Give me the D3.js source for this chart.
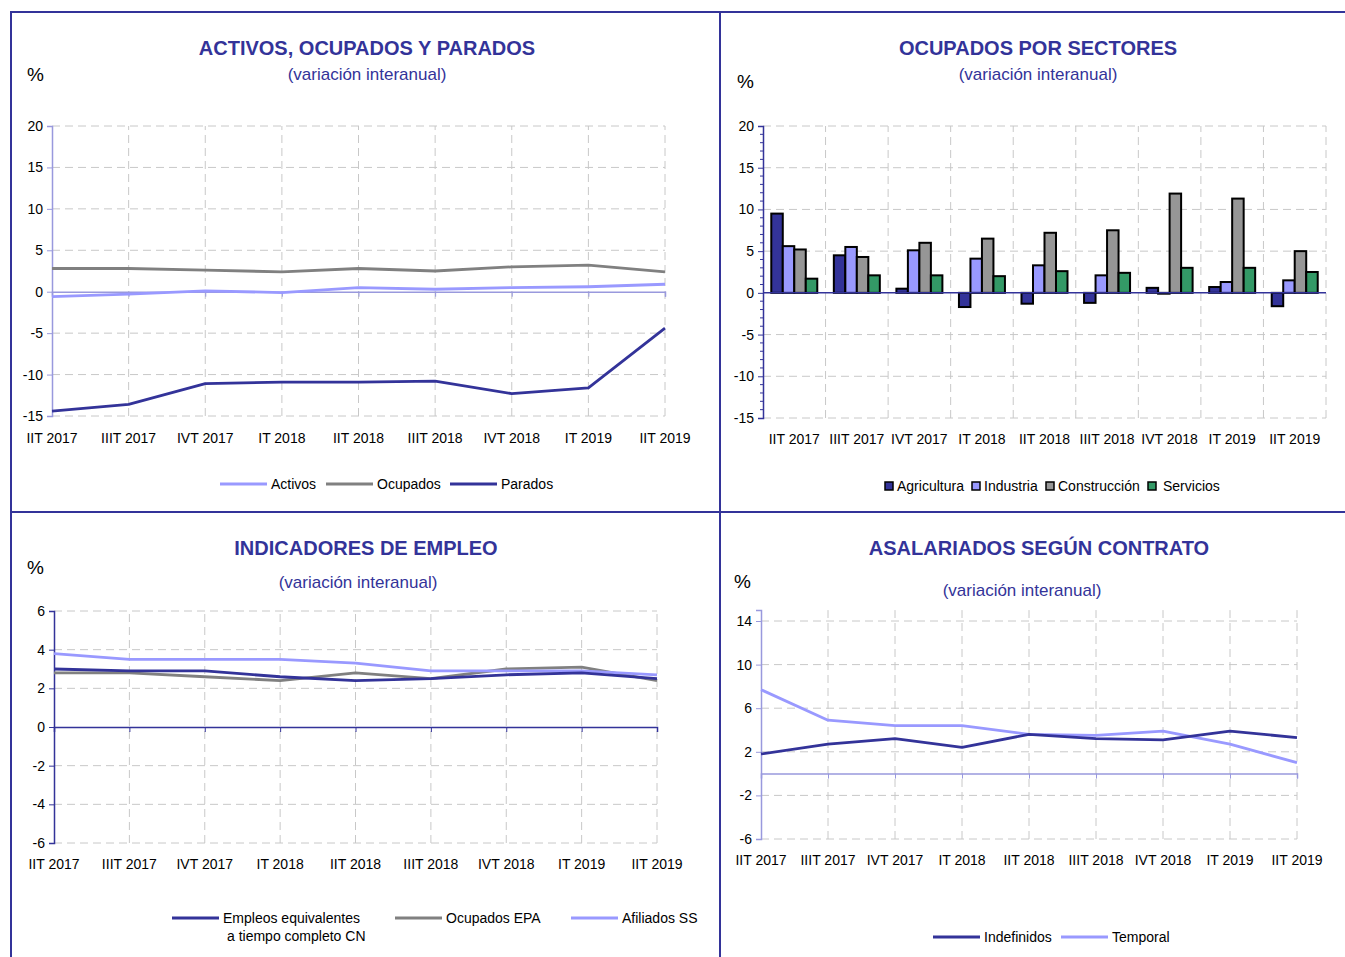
<!DOCTYPE html>
<html><head><meta charset="utf-8">
<script src="https://cdn.jsdelivr.net/npm/d3@7"></script>
<style>
body{margin:0;background:#fff;}
svg{display:block;font-family:"Liberation Sans",Arial,sans-serif;}
</style></head>
<body><svg id="c" width="1345" height="957"></svg>
<script>
const categories = ["IIT 2017","IIIT 2017","IVT 2017","IT 2018","IIT 2018","IIIT 2018","IVT 2018","IT 2019","IIT 2019"];

// Panel 1
const activos  = [-0.6,-0.3,0.1,-0.1,0.5,0.3,0.5,0.6,0.9];
const ocupados = [2.8,2.8,2.6,2.4,2.8,2.5,3.0,3.2,2.4];
const parados  = [-14.4,-13.6,-11.1,-10.9,-10.9,-10.8,-12.3,-11.6,-4.4];
const ticks1 = [20,15,10,5,0,-5,-10,-15];

// Panel 2
const sectores = ["Agricultura","Industria","Construcción","Servicios"];
const agricultura  = [9.5,4.5,0.5,-1.7,-1.3,-1.2,0.6,0.7,-1.6];
const industria    = [5.6,5.5,5.1,4.1,3.3,2.1,-0.1,1.3,1.5];
const construccion = [5.2,4.3,6.0,6.5,7.2,7.5,11.9,11.3,5.0];
const servicios    = [1.7,2.1,2.1,2.0,2.6,2.4,3.0,3.0,2.5];
const ticks2 = [20,15,10,5,0,-5,-10,-15];

// Panel 3
const empleosCN   = [3.0,2.9,2.9,2.6,2.4,2.5,2.7,2.8,2.5];
const ocupadosEPA = [2.8,2.8,2.6,2.4,2.8,2.5,3.0,3.1,2.4];
const afiliadosSS = [3.8,3.5,3.5,3.5,3.3,2.9,2.9,2.9,2.7];
const ticks3 = [6,4,2,0,-2,-4,-6];

// Panel 4
const indefinidos = [1.8,2.7,3.2,2.4,3.6,3.2,3.1,3.9,3.3];
const temporal    = [7.7,4.9,4.4,4.4,3.6,3.5,3.9,2.7,1.0];
const ticks4 = [14,10,6,2,-2,-6];

const DARK="#333399", LIGHT="#9999ff", GRAY="#808080", TITLE="#333399";
const fmt = d => String(d);
const svg = d3.select("#c");

// frame
const frame = svg.append("g").attr("stroke",DARK).attr("stroke-width",2);
frame.append("line").attr("x1",10).attr("x2",1345).attr("y1",12).attr("y2",12);
frame.append("line").attr("x1",11).attr("x2",11).attr("y1",12).attr("y2",957);
frame.append("line").attr("x1",720).attr("x2",720).attr("y1",12).attr("y2",957);
frame.append("line").attr("x1",10).attr("x2",1345).attr("y1",512).attr("y2",512);

function titles(cx, ty, title, sx, sy, px, py){
  svg.append("text").attr("x",cx).attr("y",ty).attr("text-anchor","middle")
    .attr("font-size",20).attr("font-weight","bold").attr("fill",TITLE).text(title);
  svg.append("text").attr("x",sx).attr("y",sy).attr("text-anchor","middle")
    .attr("font-size",17).attr("fill",TITLE).text("(variación interanual)");
  svg.append("text").attr("x",px).attr("y",py).attr("font-size",19).attr("fill","#000").text("%");
}

function lineChart(o){
  const x = d3.scalePoint().domain(categories).range([o.x0,o.x1]);
  const y = d3.scaleLinear().domain(o.domain).range([o.yb,o.yt]);
  const g = svg.append("g");
  // grid
  g.selectAll(".hg").data(o.ticks.filter(t=>t!==0)).join("line")
    .attr("x1",o.x0).attr("x2",o.x1).attr("y1",d=>y(d)).attr("y2",d=>y(d))
    .attr("stroke","#c8c8c8").attr("stroke-dasharray","8,5");
  g.selectAll(".vg").data(categories.slice(1)).join("line")
    .attr("x1",d=>x(d)).attr("x2",d=>x(d)).attr("y1",y(o.domain[0])).attr("y2",y(o.domain[1]))
    .attr("stroke","#c8c8c8").attr("stroke-dasharray","8,5");
  // y axis
  const ya = g.append("g").attr("transform",`translate(${o.x0},0)`)
    .call(d3.axisLeft(y).tickValues(o.ticks).tickSize(5).tickPadding(4).tickFormat(fmt));
  ya.select(".domain").attr("stroke",o.axisColor).attr("stroke-width",1.5);
  ya.selectAll(".tick line").attr("stroke",o.axisColor);
  ya.selectAll("text").attr("font-size",14).attr("fill","#000").attr("font-family","Liberation Sans, Arial, sans-serif");
  // zero line with ticks
  const xa = g.append("g").attr("transform",`translate(0,${y(0)})`)
    .call(d3.axisBottom(x).tickSize(5).tickFormat(""));
  xa.select(".domain").attr("stroke",o.axisColor).attr("stroke-width",1.5);
  xa.selectAll(".tick line").attr("stroke",o.axisColor);
  // category labels
  g.selectAll(".cl").data(categories).join("text")
    .attr("x",d=>x(d)).attr("y",o.labelY).attr("text-anchor","middle")
    .attr("font-size",14).attr("fill","#000").text(d=>d);
  // series
  const line = d3.line().x((d,i)=>x(categories[i])).y(d=>y(d));
  o.series.forEach(s=>{
    g.append("path").datum(s.values).attr("d",line).attr("fill","none")
      .attr("stroke",s.color).attr("stroke-width",2.8).attr("stroke-linejoin","round");
  });
  // legend
  o.legend.forEach(l=>{
    g.append("line").attr("x1",l.x).attr("x2",l.x+47).attr("y1",l.y-5).attr("y2",l.y-5)
      .attr("stroke",l.color).attr("stroke-width",3);
    g.append("text").attr("x",l.x+51).attr("y",l.y).attr("font-size",14).attr("fill","#000").text(l.name);
    if(l.name2){
      g.append("text").attr("x",l.x+55).attr("y",l.y+18).attr("font-size",14).attr("fill","#000").text(l.name2);
    }
  });
}

// Panel 1
titles(367,55,"ACTIVOS, OCUPADOS Y PARADOS",367,80,27,81);
lineChart({x0:52,x1:665,yt:126,yb:416,domain:[-15,20],ticks:ticks1,axisColor:"#9999dd",labelY:443,
  series:[{values:ocupados,color:GRAY},{values:activos,color:LIGHT},{values:parados,color:DARK}],
  legend:[{x:220,y:489,color:LIGHT,name:"Activos"},{x:326,y:489,color:GRAY,name:"Ocupados"},{x:450,y:489,color:DARK,name:"Parados"}]});

// Panel 3
titles(366,555,"INDICADORES DE EMPLEO",358,588,27,574);
lineChart({x0:54,x1:657,yt:611,yb:843,domain:[-6,6],ticks:ticks3,axisColor:DARK,labelY:869,
  series:[{values:ocupadosEPA,color:GRAY},{values:afiliadosSS,color:LIGHT},{values:empleosCN,color:DARK}],
  legend:[{x:172,y:923,color:DARK,name:"Empleos equivalentes",name2:"a tiempo completo CN"},
          {x:395,y:923,color:GRAY,name:"Ocupados EPA"},{x:571,y:923,color:LIGHT,name:"Afiliados SS"}]});

// Panel 4
titles(1039,555,"ASALARIADOS SEGÚN CONTRATO",1022,596,734,588);
lineChart({x0:761,x1:1297,yt:621-(839-621)/20,yb:839,domain:[-6,15],ticks:ticks4,axisColor:"#9999dd",labelY:865,
  series:[{values:temporal,color:LIGHT},{values:indefinidos,color:DARK}],
  legend:[{x:933,y:942,color:DARK,name:"Indefinidos"},{x:1061,y:942,color:LIGHT,name:"Temporal"}]});

// Panel 2 bars
titles(1038,55,"OCUPADOS POR SECTORES",1038,80,737,88);
(function(){
  const x0=763, x1=1326, yt=126, yb=418;
  const x = d3.scaleBand().domain(categories).range([x0,x1]).paddingInner(0).paddingOuter(0);
  const y = d3.scaleLinear().domain([-15,20]).range([yb,yt]);
  const inner = d3.scaleBand().domain(sectores).range([0,x.bandwidth()]).paddingOuter(0.72).paddingInner(0);
  const colors = {"Agricultura":"#333399","Industria":"#9999ff","Construcción":"#969696","Servicios":"#339966"};
  const vals = {"Agricultura":agricultura,"Industria":industria,"Construcción":construccion,"Servicios":servicios};
  const g = svg.append("g");
  g.selectAll(".hg").data(ticks2.filter(t=>t!==0)).join("line")
    .attr("x1",x0).attr("x2",x1).attr("y1",d=>y(d)).attr("y2",d=>y(d))
    .attr("stroke","#c8c8c8").attr("stroke-dasharray","8,5");
  g.selectAll(".vg").data(categories.slice(1).concat(["__end"])).join("line")
    .attr("x1",d=>d==="__end"?x1:x(d)).attr("x2",d=>d==="__end"?x1:x(d)).attr("y1",yb).attr("y2",yt)
    .attr("stroke","#c8c8c8").attr("stroke-dasharray","8,5");
  const ya = g.append("g").attr("transform",`translate(${x0},0)`)
    .call(d3.axisLeft(y).tickValues(ticks2).tickSize(5).tickPadding(4).tickFormat(fmt));
  ya.select(".domain").attr("stroke",DARK).attr("stroke-width",1.5);
  ya.selectAll(".tick line").attr("stroke",DARK);
  ya.selectAll("text").attr("font-size",14).attr("fill","#000").attr("font-family","Liberation Sans, Arial, sans-serif");
  const minor = d3.range(-15,21).filter(v=>v%5!==0);
  g.selectAll(".mt").data(minor).join("line").attr("x1",x0-3).attr("x2",x0).attr("y1",d=>y(d)).attr("y2",d=>y(d)).attr("stroke",DARK);
  // bars
  sectores.forEach(s=>{
    g.selectAll(".b"+s).data(vals[s]).join("rect")
      .attr("x",(d,i)=>x(categories[i])+inner(s))
      .attr("width",inner.bandwidth())
      .attr("y",d=>y(Math.max(0,d)))
      .attr("height",d=>Math.abs(y(d)-y(0)))
      .attr("fill",colors[s]).attr("stroke","#000").attr("stroke-width",2);
  });
  g.append("line").attr("x1",x0).attr("x2",x1).attr("y1",y(0)).attr("y2",y(0)).attr("stroke",DARK).attr("stroke-width",1.5);
  g.selectAll(".cl").data(categories).join("text")
    .attr("x",d=>x(d)+x.bandwidth()/2).attr("y",444).attr("text-anchor","middle")
    .attr("font-size",14).attr("fill","#000").text(d=>d);
  const lx = [885,972,1046,1148];
  sectores.forEach((s,i)=>{
    g.append("rect").attr("x",lx[i]).attr("y",482).attr("width",8).attr("height",8)
      .attr("fill",colors[s]).attr("stroke","#000").attr("stroke-width",1.5);
    g.append("text").attr("x",lx[i]+(i===3?15:12)).attr("y",491).attr("font-size",14).attr("fill","#000").text(s);
  });
})();
</script></body></html>
